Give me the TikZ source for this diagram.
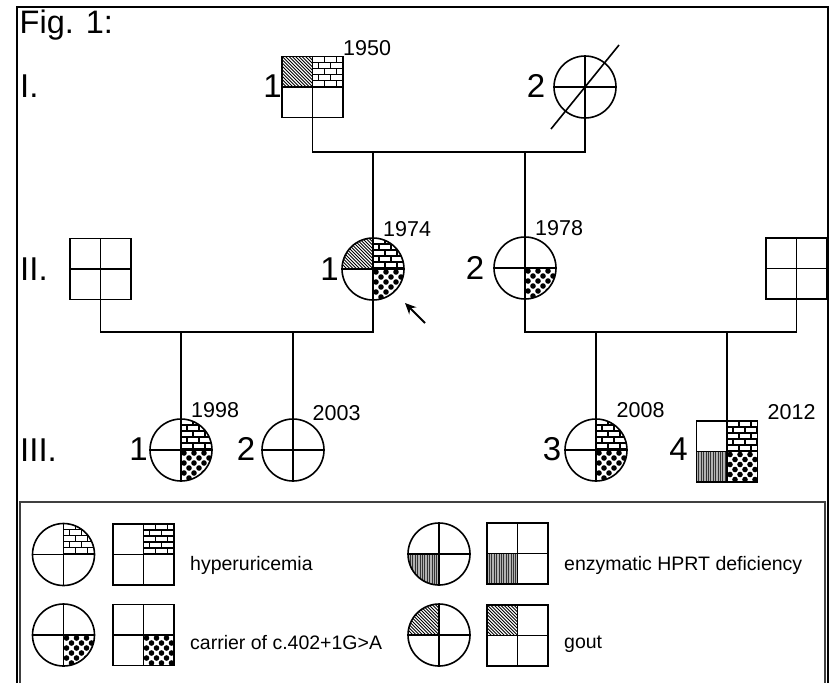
\documentclass[tikz,border=0pt]{standalone}
\usepackage{fontspec}
\setmainfont{Liberation Sans}
\usetikzlibrary{arrows.meta}
\tikzset{
  sym/.style={draw, line width=1.6pt, inner sep=0pt, outer sep=0pt},
  male/.style={sym, rectangle, minimum size=61pt},
  female/.style={sym, circle, minimum size=62pt},
  conn/.style={line width=1.3pt},
  quadline/.style={line width=1.4pt},
  frameline/.style={line width=2.2pt},
  legframe/.style={line width=1.1pt, black!75},
  fig/.style={font=\fontsize{32.5}{32.5}\selectfont, inner sep=0pt, anchor=base west},
  gen/.style={font=\fontsize{33}{33}\selectfont, inner sep=0pt, anchor=base west},
  num/.style={font=\fontsize{33}{33}\selectfont, inner sep=0pt, anchor=base east},
  yr/.style={font=\fontsize{21.5}{21.5}\selectfont, inner sep=0pt, anchor=base west},
  leg/.style={font=\fontsize{19.5}{19.5}\selectfont, inner sep=0pt, anchor=base west},
}
% patterns, drawn in a local h x h box (y downwards)
\newcommand\PBricks[1]{%
  \fill[white] (0,0) rectangle (#1,#1);
  \foreach \k in {0,...,5}{%
    \draw[line width=1.2pt] (0,\k*6) -- (#1,\k*6);
    \foreach \j in {0,...,3}{%
      \draw[line width=1.2pt] ({\j*12+mod(\k,2)*6},\k*6) -- ++(0,6);
    }%
  }}
\newcommand\PDots[1]{%
  \fill[white] (0,0) rectangle (#1,#1);
  \foreach \k in {0,...,6}{%
    \foreach \j in {0,...,3}{%
      \fill ({\j*10+mod(\k,2)*5+3},{\k*5+3}) circle[radius=2.8];
    }%
  }}
\newcommand\PVert[1]{%
  \fill[gray!60] (0,0) rectangle (#1,#1);
  \foreach \t in {0,2.4,...,33}{%
    \draw[line width=0.9pt, black!80] (\t,0) -- (\t,#1);
  }}
\newcommand\PDiag[1]{%
  \fill[white] (0,0) rectangle (#1,#1);
  \foreach \t in {-36,-32.7,...,36}{%
    \draw[line width=0.9pt] (\t,0) -- ++(#1,#1);
  }}
% quadrant fills: #1 pattern, #2 cx, #3 cy, #4 half size, #5 sx, #6 sy
\newcommand\SQ[6]{%
  \begin{scope}[shift={({#2+(#5-1)/2*#4},{#3+(#6-1)/2*#4})}]
    \clip (0,0) rectangle (#4,#4);
    #1{#4}
  \end{scope}}
\newcommand\CQ[6]{%
  \begin{scope}
    \clip (#2,#3) circle[radius=#4];
    \begin{scope}[shift={({#2+(#5-1)/2*#4},{#3+(#6-1)/2*#4})}]
      \clip (0,0) rectangle (#4,#4);
      #1{#4}
    \end{scope}
  \end{scope}}
\newcommand\Male[3]{%
  \node[male] (#1) at (#2,#3) {};
  \draw[quadline] (#1.north) -- (#1.south) (#1.west) -- (#1.east);}
\newcommand\Female[3]{%
  \node[female] (#1) at (#2,#3) {};
  \draw[quadline] (#1.north) -- (#1.south) (#1.west) -- (#1.east);}
\begin{document}
\begin{tikzpicture}[x=1pt,y=-1pt]
\useasboundingbox (0,0) rectangle (834,683);
% frame
\draw[frameline] (17,683) -- (17,7) -- (828,7) -- (828,683);
\draw[legframe] (20,683) -- (20,502) -- (825,502) -- (825,683);
\node[fig] (figlbl) at (19.5,33) {Fig. 1:};
\node[gen] (gI) at (20,97) {I.};
\node[gen] (gII) at (20,280) {II.};
\node[gen] (gIII) at (20,461) {III.};
% pattern fills of pedigree symbols
\SQ{\PDiag}{312.5}{87}{30.5}{-1}{-1}
\SQ{\PBricks}{312.5}{87}{30.5}{1}{-1}
\CQ{\PDiag}{373}{269}{31}{-1}{-1}
\CQ{\PBricks}{373}{269}{31}{1}{-1}
\CQ{\PDots}{373}{269}{31}{1}{1}
\CQ{\PDots}{525}{268}{31}{1}{1}
\CQ{\PBricks}{181}{450}{31}{1}{-1}
\CQ{\PDots}{181}{450}{31}{1}{1}
\CQ{\PBricks}{596}{450}{31}{1}{-1}
\CQ{\PDots}{596}{450}{31}{1}{1}
\SQ{\PBricks}{727}{451.5}{30.5}{1}{-1}
\SQ{\PVert}{727}{451.5}{30.5}{-1}{1}
\SQ{\PDots}{727}{451.5}{30.5}{1}{1}
% symbols
\Male{I1}{312.5}{87}
\Female{I2}{585}{87}
\Male{IIA}{100.5}{269}
\Female{II1}{373}{269}
\Female{II2}{525}{268}
\Male{IIB}{796.5}{268.5}
\Female{III1}{181}{450}
\Female{III2}{293}{450}
\Female{III3}{596}{450}
\Male{III4}{727}{451.5}
% deceased slash
\coordinate (s1) at (551,129);
\coordinate (s2) at (619,45);
\draw[line width=1.6pt] (s1) -- (s2);
% connectors
\coordinate (mI) at (373,152);
\draw[conn] (I1.south) -- (I1.south |- mI) -- (I2.south |- mI) -- (I2.south);
\draw[conn] (mI) -- (II1.north);
\draw[conn] (II2.north |- mI) -- (II2.north);
\coordinate (mA) at (181,332);
\draw[conn] (IIA.south) -- (IIA.south |- mA) -- (II1.south |- mA) -- (II1.south);
\draw[conn] (III1.north |- mA) -- (III1.north);
\draw[conn] (III2.north |- mA) -- (III2.north);
\coordinate (mB) at (596,332);
\draw[conn] (II2.south) -- (II2.south |- mB) -- (IIB.south |- mB) -- (IIB.south);
\draw[conn] (III3.north |- mB) -- (III3.north);
\draw[conn] (III4.north |- mB) -- (III4.north);
% proband arrow
\coordinate (atail) at (425,323);
\coordinate (ahead) at (405,303);
\draw[line width=2pt, -{Stealth[length=11pt,width=10pt]}] (atail) -- (ahead);
% individual numbers
\node[num] (n1) at (282,97) {1};
\node[num] (n2) at (545.5,97) {2};
\node[num] (n3) at (339,280) {1};
\node[num] (n4) at (484.5,279) {2};
\node[num] (n5) at (148,460) {1};
\node[num] (n6) at (255.5,460) {2};
\node[num] (n7) at (561.5,460.5) {3};
\node[num] (n8) at (688,460) {4};
% years
\node[yr] (y1) at (343,55) {1950};
\node[yr] (y2) at (383,236) {1974};
\node[yr] (y3) at (535,235) {1978};
\node[yr] (y4) at (191,417) {1998};
\node[yr] (y5) at (312.5,420) {2003};
\node[yr] (y6) at (616.5,417) {2008};
\node[yr] (y7) at (767.5,419) {2012};
% legend patterns
\CQ{\PBricks}{63.5}{554.5}{31}{1}{-1}
\SQ{\PBricks}{143.5}{554.5}{30.5}{1}{-1}
\CQ{\PDots}{63.5}{635}{31}{1}{1}
\SQ{\PDots}{143.5}{635}{30.5}{1}{1}
\CQ{\PVert}{439}{554}{31}{-1}{1}
\SQ{\PVert}{517.5}{553.5}{30.5}{-1}{1}
\CQ{\PDiag}{439}{635}{31}{-1}{-1}
\SQ{\PDiag}{517.5}{635.5}{30.5}{-1}{-1}
% legend symbols
\Female{L1c}{63.5}{554.5}
\Male{L1s}{143.5}{554.5}
\Female{L2c}{63.5}{635}
\Male{L2s}{143.5}{635}
\Female{L3c}{439}{554}
\Male{L3s}{517.5}{553.5}
\Female{L4c}{439}{635}
\Male{L4s}{517.5}{635.5}
\node[leg] (t1) at (190,570) {hyperuricemia};
\node[leg] (t2) at (190,649) {carrier of c.402+1G>A};
\node[leg] (t3) at (564,570) {enzymatic HPRT deficiency};
\node[leg] (t4) at (564,648) {gout};
\end{tikzpicture}
\end{document}
